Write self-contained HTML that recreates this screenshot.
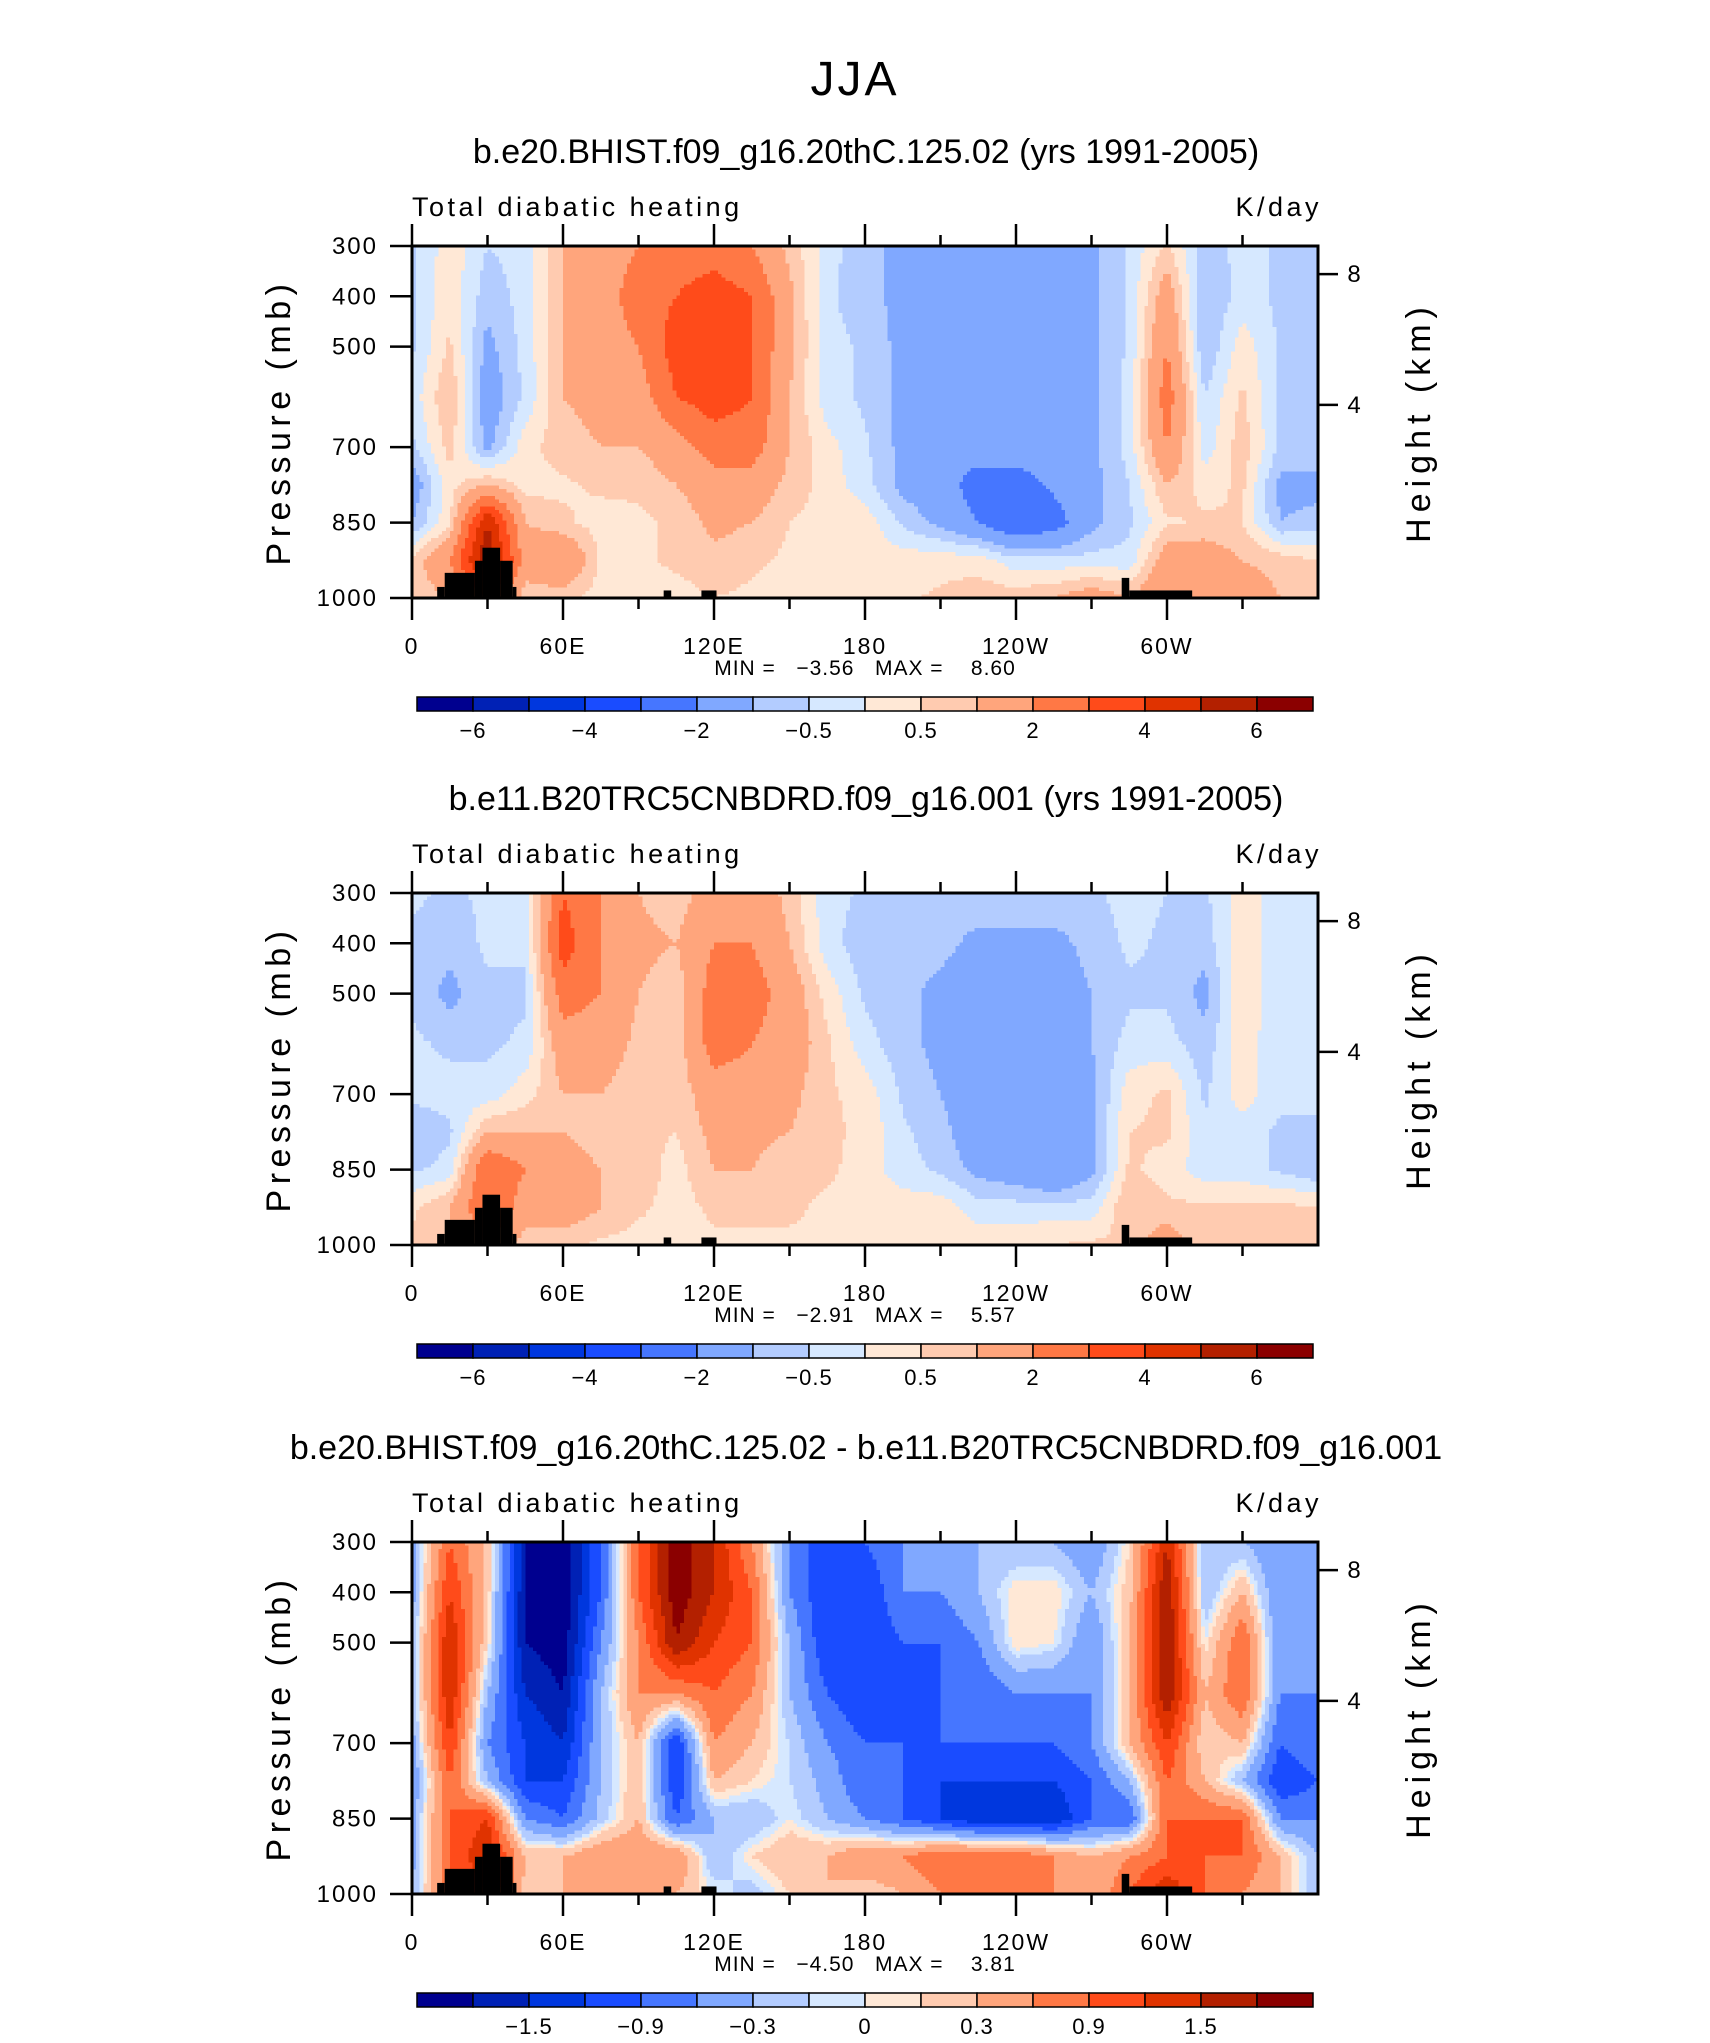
<!DOCTYPE html>
<html><head><meta charset="utf-8">
<style>
html,body{margin:0;padding:0;background:#fff;}
svg text{font-family:"Liberation Sans",sans-serif;fill:#000;}
</style></head>
<body>
<svg id="fig" width="1710" height="2038" viewBox="0 0 1710 2038" xmlns="http://www.w3.org/2000/svg">
<text x="855" y="95" font-size="48" letter-spacing="3" text-anchor="middle">JJA</text>
</svg>
<script>
// ---- data ----
const pressureLevels = [300,400,500,600,700,775,850,925,1000];
const lonPoints = [0,15,30,45,60,75,90,105,120,135,150,165,180,195,210,225,240,255,270,285,300,315,330,345,360];
const panelTitles = [
 "b.e20.BHIST.f09_g16.20thC.125.02 (yrs 1991-2005)",
 "b.e11.B20TRC5CNBDRD.f09_g16.001 (yrs 1991-2005)",
 "b.e20.BHIST.f09_g16.20thC.125.02 - b.e11.B20TRC5CNBDRD.f09_g16.001"];
const minMaxText = ["MIN =   \u22123.56   MAX =    8.60","MIN =   \u22122.91   MAX =    5.57","MIN =   \u22124.50   MAX =    3.81"];
const levelsAbs = [-6,-5,-4,-3,-2,-1,-0.5,0,0.5,1,2,3,4,5,6];
const levelsDiff = [-1.8,-1.5,-1.2,-0.9,-0.6,-0.3,-0.1,0,0.1,0.3,0.6,0.9,1.2,1.5,1.8];
const labelsAbs = [[1,"\u22126"],[3,"\u22124"],[5,"\u22122"],[7,"\u22120.5"],[9,"0.5"],[11,"2"],[13,"4"],[15,"6"]];
const labelsDiff = [[2,"\u22121.5"],[4,"\u22120.9"],[6,"\u22120.3"],[8,"0"],[10,"0.3"],[12,"0.9"],[14,"1.5"]];
const colors = ["#00008f","#0021b5","#0037de","#1a4cff","#4676ff","#80a8ff","#b3ccff","#d6e8ff","#ffe8d6","#ffcbb0","#ffa57c","#ff7845","#ff4b1a","#e03300","#b32000","#8b0000"];
const xTickLabels = [[0,"0"],[60,"60E"],[120,"120E"],[180,"180"],[240,"120W"],[300,"60W"]];
const pTicks = [300,400,500,700,850,1000];
const hTicks = [[8,356],[4,616]];
// columns = lonPoints, rows = pressureLevels
const field1 = [
[-0.6,-0.6,-0.6,-0.3,-0.6,-1.5,-1,0.6,0.6],
[0.3,0.4,0.6,1,0.7,0.3,0.4,2,1],
[-0.5,-0.8,-1.2,-1.5,-1.2,1,5,6,3],
[-0.3,-0.3,-0.3,-0.4,0.3,0.3,1,1.5,0.6],
[1,1,1,1,0.8,0.4,0.6,2,0.6],
[1.5,1.5,1.5,1.2,1,0.6,0.3,0.4,0.3],
[2,2.5,2,1.5,1,0.6,0.4,0.4,0.3],
[2.5,3,3.5,3,1.5,1,0.6,0.6,0.3],
[2.5,3.5,4,3.5,2.5,1.5,1.2,0.8,0.5],
[2,3,3,3,2.5,1.5,1,0.6,0.4],
[0.8,1.2,1.2,1,1,0.8,0.5,0.4,0.3],
[-0.2,-0.4,-0.3,-0.3,0.2,0.3,0.3,0.3,0.3],
[-1,-0.8,-0.6,-0.6,-0.4,-0.3,0.3,0.3,0.3],
[-1,-1.2,-1.2,-1.2,-1.2,-1.2,-0.6,0.3,0.4],
[-1.2,-1.5,-1.5,-1.5,-1.5,-1.5,-1.2,0.3,0.6],
[-1.2,-1.5,-1.5,-1.5,-1.5,-2.5,-2,0.3,0.8],
[-1.2,-1.5,-1.5,-1.5,-1.5,-2.5,-3,-0.3,0.8],
[-1.2,-1.5,-1.5,-1.5,-1.5,-1.8,-2.5,-0.3,1],
[-1.2,-1.2,-1.2,-1.2,-1.2,-1.2,-1.2,-0.3,1.5],
[-0.4,-0.4,-0.4,-0.3,-0.3,-0.5,-0.6,-0.3,1],
[0.6,1.5,2,2.5,2,1,0.4,1.5,2],
[-0.8,-1,-1,-0.5,-0.3,0.3,0.6,1.5,1.5],
[-0.3,-0.3,0.3,0.6,0.8,0.6,0.5,1,1.5],
[-0.6,-0.6,-0.6,-0.6,-0.6,-1.2,-1,0.8,1],
[-0.6,-0.6,-1,-1,-0.6,-1.2,-0.8,0.5,1]];
const field2 = [
[-0.4,-0.6,-0.6,-0.4,-0.3,-1,-0.6,0.4,0.6],
[-0.6,-0.8,-1.2,-0.6,-0.3,-0.6,-0.3,1,1],
[-0.4,-0.4,-0.6,-0.6,-0.3,1,3,3,2],
[-0.3,-0.4,-0.6,-0.4,0.3,1,2,1.5,0.6],
[3,3.5,2.5,1.5,1,1,1.5,1.5,0.6],
[2,2,2,1.5,1,0.6,1,1,0.4],
[1,1.2,1,0.8,0.6,0.6,0.8,0.6,0.3],
[0.6,1,0.6,0.6,0.6,0.5,0.3,0.3,0.3],
[1.5,2,2.5,2.5,1.5,1.2,1,0.6,0.4],
[1.5,2,2.5,2,1.5,1.2,1,0.6,0.4],
[0.8,1,1.5,1.5,1.2,1,0.6,0.6,0.4],
[-0.3,-0.3,0.3,0.6,0.6,0.6,0.6,0.4,0.4],
[-0.6,-0.8,-0.6,-0.3,0.3,0.4,0.3,0.3,0.3],
[-0.6,-0.8,-0.8,-0.8,-0.6,-0.4,-0.3,0.3,0.3],
[-0.6,-0.8,-1.2,-1.2,-1,-0.8,-0.6,0.3,0.4],
[-0.6,-1.2,-1.5,-1.5,-1.5,-1.5,-1.2,-0.3,0.4],
[-0.6,-1.2,-1.5,-1.5,-1.5,-1.5,-1.5,-0.3,0.4],
[-0.6,-1.2,-1.5,-1.5,-1.5,-1.5,-2,-0.3,0.5],
[-0.6,-0.8,-1,-1,-1.2,-1.2,-1.2,-0.3,0.6],
[-0.3,-0.4,-0.6,-0.3,0.3,0.5,0.6,1,0.6],
[-0.5,-0.6,-0.6,-0.3,0.6,0.6,0.3,0.6,1.5],
[-0.6,-0.8,-1.2,-0.8,-0.6,-0.4,-0.3,0.6,0.6],
[0.3,0.4,0.4,0.3,0.3,-0.3,-0.3,0.6,0.6],
[-0.3,-0.4,-0.4,-0.4,-0.4,-0.6,-0.6,0.6,1],
[-0.3,-0.4,-0.4,-0.4,-0.4,-0.6,-1,0.6,1]];
const field3 = [
[-0.4,-0.4,-0.3,-0.3,-0.4,-0.6,-0.4,-0.4,-0.3],
[0.9,1.2,1.5,1.5,1.2,0.9,0.9,0.9,0.9],
[0.2,0.2,0.1,-0.3,-0.6,-0.3,1.2,1.5,1.2],
[-1.8,-1.8,-1.8,-1.5,-1.2,-1.2,-0.6,0.3,0.2],
[-2,-2,-2,-1.8,-1.5,-1.2,-0.9,0.3,0.3],
[-0.9,-0.9,-0.6,-0.3,-0.3,-0.3,-0.2,0.6,0.6],
[0.9,0.9,0.6,0.6,0.3,0.3,0.3,0.6,0.3],
[2,2,1.8,0.6,-1.2,-1.2,-0.9,0.6,0.3],
[1.5,1.5,1.2,0.9,0.6,0.3,-0.3,-0.3,0],
[0.6,0.9,0.9,0.6,0.3,0.1,-0.3,0.1,-0.2],
[-0.6,-0.6,-0.3,-0.3,-0.1,-0.1,0,0.3,0.1],
[-1.2,-1.2,-1.2,-0.9,-0.6,-0.4,-0.3,0.3,0.3],
[-0.9,-1.2,-1.2,-1.2,-0.9,-0.9,-0.6,0.6,0.1],
[-0.6,-0.6,-0.9,-1.2,-0.9,-0.9,-0.9,0.6,0.3],
[-0.6,-0.6,-0.9,-0.9,-0.9,-1.2,-1.2,0.9,0.6],
[-0.3,-0.3,-0.6,-0.9,-0.9,-1.2,-1.5,0.9,0.6],
[-0.3,0.1,0.1,-0.6,-0.9,-1.2,-1.5,0.9,0.6],
[-0.3,0.1,0,-0.6,-0.9,-1.2,-1.5,0.6,0.6],
[-0.6,-0.3,-0.6,-0.6,-0.6,-0.9,-0.9,0.3,0.3],
[0.1,0.2,0.3,0.3,0.3,-0.3,-0.9,0.6,0.9],
[1.5,1.8,1.8,1.8,1.2,0.9,0.9,0.9,1.5],
[-0.3,-0.3,0,0.3,0.1,0.3,0.9,0.9,0.9],
[-0.3,0.3,0.9,0.9,0.3,-0.3,0.9,0.9,0.6],
[-0.6,-0.6,-0.6,-0.6,-0.9,-1.2,-0.6,0.3,0.3],
[-0.6,-0.6,-0.6,-0.6,-0.6,-0.9,-0.6,-0.3,-0.3]];
// topography steps: [lonStart, lonEnd, surfacePressure]
const topoSteps = [[10,13,978],[13,25,950],[25,28,926],[28,35,900],[35,40,926],[40,41.5,978],[100,103,985],[115,121,985],[282,285,960],[285,310,985]];

// ---- drawing ----
const NS = "http://www.w3.org/2000/svg";
const svg = document.getElementById('fig');
const PX0 = 412, PX1 = 1318, PTOP = 246, PBOT = 598;
const offsets = [0, 647, 1296];
const xOf = lon => PX0 + lon / 360 * (PX1 - PX0);
const yOf = (p, off) => off + PTOP + (p - 300) / 700 * (PBOT - PTOP);
function el(tag, attrs, parent) { const e = document.createElementNS(NS, tag); for (const k in attrs) e.setAttribute(k, attrs[k]); (parent || svg).appendChild(e); return e; }
function txt(s, x, y, size, anchor, parent, ls) { const t = el('text', {x: x, y: y, 'font-size': size, 'text-anchor': anchor || 'start'}, parent); if (ls) t.setAttribute('letter-spacing', ls); t.textContent = s; return t; }
function interp(field, lon, p) {
  let i = Math.min(Math.floor(lon / 15), lonPoints.length - 2);
  const fx = (lon - lonPoints[i]) / 15;
  let j = 0; while (j < pressureLevels.length - 2 && p > pressureLevels[j + 1]) j++;
  const fy = (p - pressureLevels[j]) / (pressureLevels[j + 1] - pressureLevels[j]);
  const a = field[i][j], b = field[i + 1][j], c = field[i][j + 1], d = field[i + 1][j + 1];
  return Math.round((a * (1 - fx) * (1 - fy) + b * fx * (1 - fy) + c * (1 - fx) * fy + d * fx * fy) * 1e6) / 1e6;
}
function colorIdx(v, lev) { let k = 0; while (k < lev.length && v >= lev[k] - 1e-9) k++; return k; }
const fields = [field1, field2, field3];
fields.forEach((field, pi) => {
  const off = offsets[pi];
  const lev = pi === 2 ? levelsDiff : levelsAbs;
  const g = el('g', {});
  
  
  const t = txt(panelTitles[pi], 866, off + 163, 34, 'middle', g);
  
  
  const l1 = txt("Total diabatic heating", 412, off + 216, 27, 'start', g, 3.5);
  
  
  const l2 = txt("K/day", 1322, off + 216, 27, 'end', g, 3.5);
  
  
  // heatmap cells
  const hm = el('g', {'shape-rendering': 'crispEdges'}, g);
  
  
  const dLon = 1.5, dP = 7;
  for (let p = 300; p < 1000; p += dP) {
    let runStart = 0, runK = -1;
    for (let lon = 0; lon <= 360; lon += dLon) {
      const k = lon < 360 ? colorIdx(interp(field, lon + dLon / 2, p + dP / 2), lev) : -2;
      if (k !== runK) {
        if (runK >= 0) {
          const r = el('rect', {x: xOf(runStart), y: yOf(p, off), width: xOf(lon) - xOf(runStart) + 0.6, height: yOf(p + dP, off) - yOf(p, off) + 0.6, fill: colors[runK]}, hm);
          
          
        }
        runStart = lon; runK = k;
      }
    }
  }
  // topography
  topoSteps.forEach(s => {
    const r = el('rect', {x: xOf(s[0]), y: yOf(s[2], off), width: xOf(s[1]) - xOf(s[0]), height: yOf(1000, off) - yOf(s[2], off), fill: '#000'}, g);
    
    
  });
  // frame
  const fr = el('rect', {x: PX0, y: off + PTOP, width: PX1 - PX0, height: PBOT - PTOP, fill: 'none', stroke: '#000', 'stroke-width': 3}, g);
  
  
  // lon ticks
  for (let lon = 0; lon < 360; lon += 30) {
    const major = lon % 60 === 0;
    const len = major ? 22 : 11;
    el('line', {x1: xOf(lon), x2: xOf(lon), y1: off + PTOP, y2: off + PTOP - len, stroke: '#000', 'stroke-width': 2.5}, g);
    el('line', {x1: xOf(lon), x2: xOf(lon), y1: off + PBOT, y2: off + PBOT + len, stroke: '#000', 'stroke-width': 2.5}, g);
  }
  xTickLabels.forEach(tl => {
    const e = txt(tl[1], xOf(tl[0]), off + 654, 23, 'middle', g, 2);
    
    
  });
  pTicks.forEach(p => {
    el('line', {x1: PX0 - 22, x2: PX0, y1: yOf(p, off), y2: yOf(p, off), stroke: '#000', 'stroke-width': 2.5}, g);
    const e = txt(String(p), 378, yOf(p, off) + 8, 24, 'end', g, 2);
    
    
  });
  hTicks.forEach(h => {
    el('line', {x1: PX1, x2: PX1 + 20, y1: yOf(h[1], off), y2: yOf(h[1], off), stroke: '#000', 'stroke-width': 2.5}, g);
    const e = txt(String(h[0]), 1354, yOf(h[1], off) + 8, 24, 'middle', g);
    
    
  });
  const yc = off + 422;
  const ya = txt("Pressure  (mb)", 0, 0, 34, 'middle', g, 5.5);
  ya.setAttribute('transform', `translate(290 ${yc}) rotate(-90)`);
  
  
  const yb = txt("Height  (km)", 0, 0, 34, 'middle', g, 6);
  yb.setAttribute('transform', `translate(1430 ${yc}) rotate(-90)`);
  
  
  const mm = txt(minMaxText[pi], 865, off + 675, 21, 'middle', g, 1);
  mm.style.whiteSpace = 'pre';
  
  
  // colorbar
  const cb = el('g', {}, g);
  
  
  const cbx = 417, cbw = 896 / 16, cby = off + 697, cbh = 14;
  colors.forEach((c, k) => {
    const r = el('rect', {x: cbx + k * cbw, y: cby, width: cbw, height: cbh, fill: c, stroke: '#000', 'stroke-width': 1.5}, cb);
    
    
  });
  (pi === 2 ? labelsDiff : labelsAbs).forEach(lb => {
    const e = txt(lb[1], cbx + lb[0] * cbw, off + 738, 22, 'middle', cb, 1);
    
    
  });
});
</script>
</body></html>
